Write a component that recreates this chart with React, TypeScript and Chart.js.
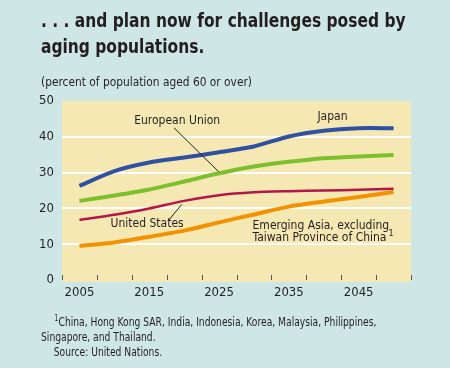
import React, { useEffect, useRef } from 'react';
import { Chart, registerables } from 'chart.js';

Chart.register(...registerables);

const years = ['2005', '2010', '2015', '2020', '2025', '2030', '2035', '2040', '2045', '2050'];
const japan = [26.3, 30.4, 32.8, 34.2, 35.7, 37.3, 40.1, 41.7, 42.4, 42.4];
const europeanUnion = [22.1, 23.6, 25.3, 27.5, 29.8, 31.7, 33.0, 34.0, 34.5, 34.9];
const unitedStates = [16.8, 18.2, 20.0, 22.1, 23.7, 24.5, 24.8, 25.0, 25.2, 25.5];
const emergingAsia = [9.5, 10.5, 12.1, 13.8, 16.1, 18.3, 20.5, 21.9, 23.2, 24.6];
const yTicks = [0, 10, 20, 30, 40, 50];

const FONT = '"Liberation Sans Narrow", "DejaVu Sans Condensed", "Arial Narrow", sans-serif';
const TEXT = '#231f20';
const BG = '#cfe6e6';
const PLOT_BG = '#f6e8b3';

const bgPlugin = {
  id: 'plotBg',
  beforeDraw(chart: any) {
    const { ctx, chartArea } = chart;
    ctx.save();
    ctx.fillStyle = PLOT_BG;
    ctx.fillRect(chartArea.left, chartArea.top, chartArea.right - chartArea.left, chartArea.bottom - chartArea.top + 2);
    ctx.restore();
  },
};

const tickPlugin = {
  id: 'innerTicks',
  afterDatasetsDraw(chart: any) {
    const { ctx, chartArea } = chart;
    const xs = chart.scales.x;
    ctx.save();
    ctx.strokeStyle = '#555';
    ctx.lineWidth = 1;
    for (let i = 0; i <= years.length; i++) {
      const x = Math.round(xs.getPixelForValue(i - 0.5)) + 0.5;
      ctx.beginPath();
      ctx.moveTo(x, chartArea.bottom - 5);
      ctx.lineTo(x, chartArea.bottom);
      ctx.stroke();
    }
    ctx.restore();
  },
};

const annotationPlugin = {
  id: 'labels',
  afterDatasetsDraw(chart: any) {
    const { ctx } = chart;
    const xs = chart.scales.x;
    const ys = chart.scales.y;
    const px = (i: number) => xs.getPixelForValue(i);
    const py = (v: number) => ys.getPixelForValue(v);
    ctx.save();
    ctx.fillStyle = TEXT;
    ctx.strokeStyle = '#222';
    ctx.lineWidth = 1;
    ctx.font = `12px ${FONT}`;
    ctx.textBaseline = 'middle';
    // European Union
    ctx.textAlign = 'center';
    ctx.fillText('European Union', px(2.8), py(44.4));
    ctx.beginPath();
    ctx.moveTo(px(2.71), py(42.5));
    ctx.lineTo(px(3.99), py(30.25));
    ctx.stroke();
    // United States
    ctx.fillText('United States', px(1.94), py(15.8));
    ctx.beginPath();
    ctx.moveTo(px(2.55), py(16.6));
    ctx.lineTo(px(2.93), py(21.1));
    ctx.stroke();
    // Japan
    ctx.fillText('Japan', px(7.25), py(45.5));
    // Emerging Asia
    ctx.textAlign = 'left';
    ctx.fillText('Emerging Asia, excluding', px(4.96), py(15.1));
    const l2 = 'Taiwan Province of China';
    ctx.fillText(l2, px(4.96), py(11.7));
    const w = ctx.measureText(l2).width;
    ctx.font = `9px ${FONT}`;
    ctx.fillText('1', px(4.96) + w + 2, py(11.7) - 4);
    ctx.restore();
  },
};

function ChartCanvas() {
  const ref = useRef<HTMLCanvasElement | null>(null);
  useEffect(() => {
    if (!ref.current) return;
    const ds = (label: string, data: number[], color: string, width: number) => ({
      label,
      data,
      borderColor: color,
      backgroundColor: color,
      borderWidth: width,
      pointRadius: 0,
      tension: 0.25,
      borderCapStyle: 'butt' as const,
      fill: false,
    });
    const chart = new Chart(ref.current, {
      type: 'line',
      data: {
        labels: years,
        datasets: [
          ds('Emerging Asia, excluding Taiwan Province of China', emergingAsia, '#f39200', 4),
          ds('United States', unitedStates, '#b5164a', 2.5),
          ds('European Union', europeanUnion, '#7dc02e', 4),
          ds('Japan', japan, '#2e51a3', 4),
        ],
      },
      plugins: [bgPlugin, tickPlugin, annotationPlugin],
      options: {
        responsive: false,
        animation: false,
        layout: { padding: { top: 101, left: 0, right: 39, bottom: 0 } },
        plugins: { legend: { display: false }, tooltip: { enabled: false } },
        scales: {
          x: {
            type: 'category',
            offset: true,
            grid: { display: false, drawTicks: false },
            border: { display: false },
            ticks: {
              autoSkip: false,
              maxRotation: 0,
              padding: 5,
              color: TEXT,
              font: { family: FONT, size: 13 },
              callback: (_v: any, i: number) => (i % 2 === 0 ? years[i] : ''),
            },
            afterFit: (s: any) => {
              s.height = 88;
            },
          },
          y: {
            min: 0,
            max: 50,
            afterBuildTicks: (s: any) => {
              s.ticks = yTicks.map((v) => ({ value: v }));
            },
            grid: {
              drawTicks: false,
              lineWidth: 2,
              color: (c: any) => (c.tick && (c.tick.value === 0 || c.tick.value === 50) ? 'rgba(0,0,0,0)' : '#ffffff'),
            },
            border: { display: false },
            ticks: {
              padding: 8,
              color: TEXT,
              font: { family: FONT, size: 13 },
            },
            afterFit: (s: any) => {
              s.width = 62;
            },
          },
        },
      },
    });
    return () => chart.destroy();
  }, []);
  return <canvas ref={ref} width={450} height={368} style={{ position: 'absolute', left: 0, top: 0, width: 450, height: 368 }} />;
}

export default function App() {
  const text: React.CSSProperties = {
    position: 'absolute',
    color: TEXT,
    fontFamily: FONT,
    whiteSpace: 'nowrap',
    transformOrigin: '0 0',
  };
  return (
    <div style={{ position: 'fixed', left: 0, top: 0, width: 450, height: 368, background: BG, overflow: 'hidden' }}>
      <ChartCanvas />
      <div style={{ ...text, left: 41, top: 7, fontSize: 20, fontWeight: 'bold', lineHeight: '26px', transform: 'scaleX(0.86)' }}>
        . . . and plan now for challenges posed by
        <br />
        aging populations.
      </div>
      <div style={{ ...text, left: 41, top: 74, fontSize: 13, lineHeight: '16px', transform: 'scaleX(0.91)' }}>
        (percent of population aged 60 or over)
      </div>
      <div style={{ ...text, left: 41, top: 315, fontSize: 12, lineHeight: '15px', transform: 'scaleX(0.85)' }}>
        <span style={{ paddingLeft: 16 }}>
          <sup style={{ fontSize: 8, verticalAlign: 'top', lineHeight: '8px' }}>1</sup>China, Hong Kong SAR, India, Indonesia, Korea, Malaysia, Philippines,
        </span>
        <br />
        Singapore, and Thailand.
        <br />
        <span style={{ paddingLeft: 15 }}>Source: United Nations.</span>
      </div>
    </div>
  );
}
